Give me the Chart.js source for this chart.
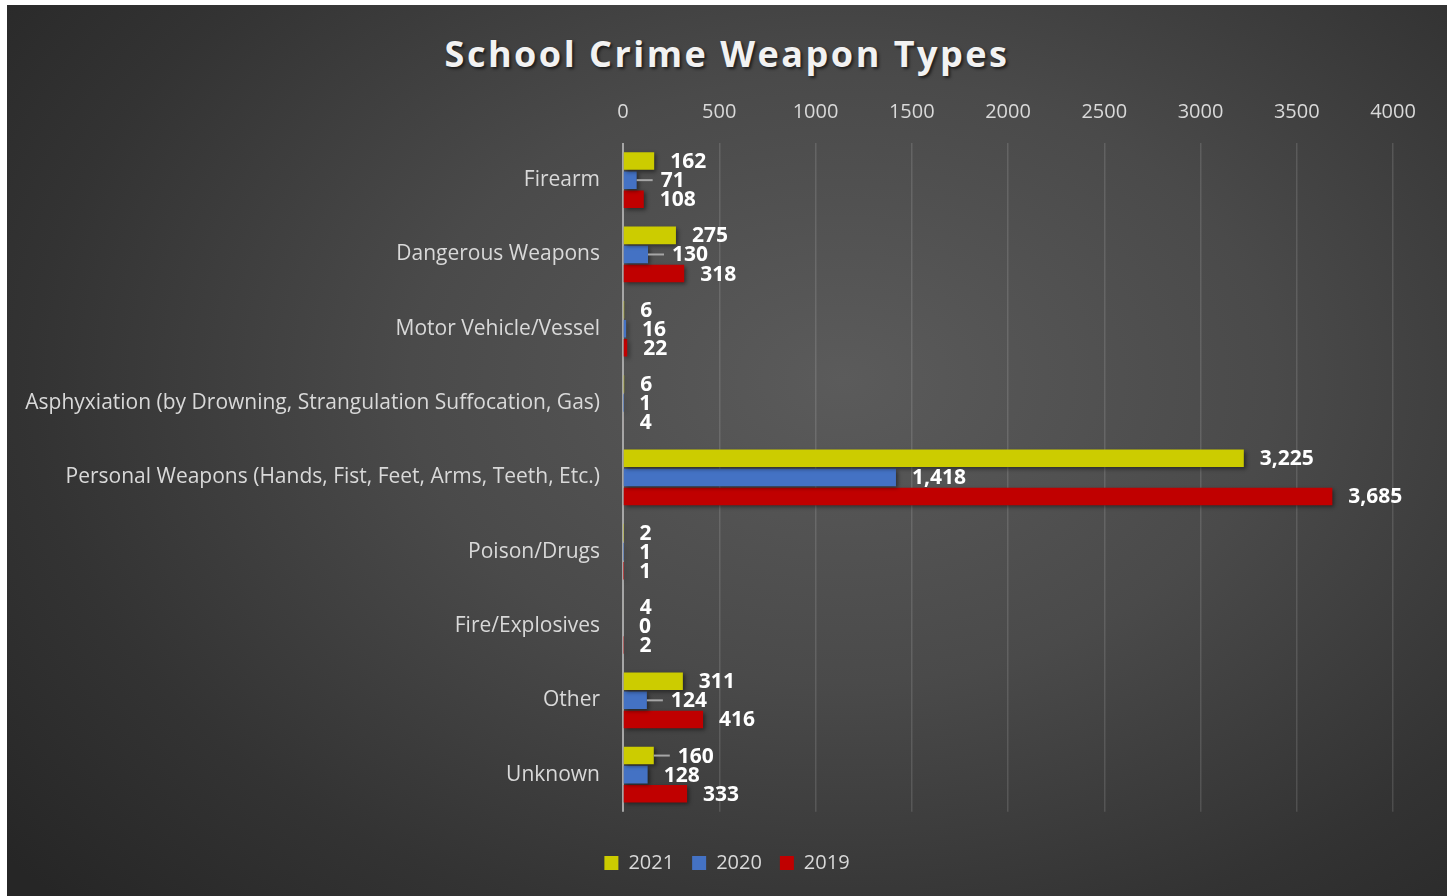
<!DOCTYPE html>
<html>
<head>
<meta charset="utf-8">
<script src="https://cdn.jsdelivr.net/npm/chart.js@4.4.1/dist/chart.umd.min.js"></script>
<style>
  html, body { margin: 0; padding: 0; background: #fff; }
  body { width: 1452px; height: 896px; overflow: hidden; position: relative; }
  #wrap {
    position: absolute; left: 7px; top: 5px; width: 1440px; height: 891px;
    background: radial-gradient(ellipse 75% 85% at 58% 42%, #5b5b5b 0%, #4a4a4a 40%, #333 75%, #262626 100%);
  }
  #title {
    position: absolute; left: 0; right: 0; top: 24px; margin: 0;
    text-align: center; color: #f2f2f2;
    font: bold 36px "Open Sans", sans-serif; letter-spacing: 2.5px;
    text-shadow: 2px 2px 3px rgba(0,0,0,0.6);
  }
  canvas { position: absolute; left: 0; top: 0; }
</style>
</head>
<body>
<div id="wrap">
  <h1 id="title">School Crime Weapon Types</h1>
  <canvas id="chart" width="1440" height="891"></canvas>
</div>
<script>
// Data
const categories = [
    "Firearm",
    "Dangerous Weapons",
    "Motor Vehicle/Vessel",
    "Asphyxiation (by Drowning, Strangulation Suffocation, Gas)",
    "Personal Weapons (Hands, Fist, Feet, Arms, Teeth, Etc.)",
    "Poison/Drugs",
    "Fire/Explosives",
    "Other",
    "Unknown"
];
const values2021 = [162, 275, 6, 6, 3225, 2, 4, 311, 160];
const values2020 = [71, 130, 16, 1, 1418, 1, 0, 124, 128];
const values2019 = [108, 318, 22, 4, 3685, 1, 2, 416, 333];
const axisMax = 4000;
const axisStep = 500;

const labelFont = '"Open Sans", sans-serif';

// labels that Excel pushed aside, with a leader line: [dataset, index]
const leaderLabels = [[1, 0], [1, 1], [1, 7], [0, 8]];

// value labels drawn next to each bar
const valueLabels = {
    id: "valueLabels",
    afterDatasetsDraw(chart) {
        const ctx = chart.ctx;
        ctx.save();
        ctx.font = "bold 21px " + labelFont;
        ctx.fillStyle = "#ffffff";
        ctx.textBaseline = "middle";
        chart.data.datasets.forEach((ds, di) => {
            chart.getDatasetMeta(di).data.forEach((bar, i) => {
                const lead = leaderLabels.some(p => p[0] === di && p[1] === i);
                let x = bar.x + 16;
                if (lead) {
                    ctx.strokeStyle = "#a6a6a6";
                    ctx.lineWidth = 2;
                    ctx.beginPath();
                    ctx.moveTo(bar.x, bar.y);
                    ctx.lineTo(bar.x + 16, bar.y);
                    ctx.stroke();
                    x = bar.x + 24;
                }
                ctx.fillText(ds.data[i].toLocaleString("en-US"), x, bar.y + 1);
            });
        });
        ctx.restore();
    }
};

// soft drop shadow under the bars
const barShadow = {
    id: "barShadow",
    beforeDatasetsDraw(chart) {
        const ctx = chart.ctx;
        ctx.save();
        ctx.shadowColor = "rgba(0,0,0,0.45)";
        ctx.shadowBlur = 4;
        ctx.shadowOffsetX = 2;
        ctx.shadowOffsetY = 2;
    },
    afterDatasetsDraw(chart) {
        chart.ctx.restore();
    }
};

// light axis line at zero
const zeroLine = {
    id: "zeroLine",
    beforeDatasetsDraw(chart) {
        const ctx = chart.ctx;
        const x = chart.scales.x.getPixelForValue(0);
        ctx.save();
        ctx.strokeStyle = "#a6a6a6";
        ctx.lineWidth = 2;
        ctx.beginPath();
        ctx.moveTo(x, chart.chartArea.top);
        ctx.lineTo(x, chart.chartArea.bottom);
        ctx.stroke();
        ctx.restore();
    }
};

new Chart(document.getElementById("chart").getContext("2d"), {
    type: "bar",
    data: {
        labels: categories,
        datasets: [
            { label: "2021", data: values2021, backgroundColor: "#cccc00" },
            { label: "2020", data: values2020, backgroundColor: "#4472c4" },
            { label: "2019", data: values2019, backgroundColor: "#c00000" }
        ]
    },
    options: {
        indexAxis: "y",
        responsive: false,
        animation: false,
        categoryPercentage: 0.77,
        barPercentage: 0.92,
        layout: { padding: { top: 88, right: 0, bottom: 13, left: 0 } },
        scales: {
            x: {
                position: "top",
                min: 0,
                max: axisMax,
                afterFit(scale) { scale.height = 50; },
                ticks: {
                    stepSize: axisStep,
                    color: "#d9d9d9",
                    font: { family: labelFont, size: 20 },
                    padding: 19,
                    callback: v => String(v)
                },
                grid: { color: "rgba(255,255,255,0.13)", lineWidth: 1.5, drawTicks: false },
                border: { display: false }
            },
            y: {
                afterFit(scale) { scale.width = 616; },
                ticks: {
                    color: "#d9d9d9",
                    font: { family: labelFont, size: 21 },
                    padding: 15
                },
                grid: { display: false },
                border: { display: false }
            },
            // empty margin on the right so the plot ends where the reference does
            yRight: {
                type: "category",
                position: "right",
                afterFit(scale) { scale.width = 54; },
                ticks: { display: false },
                grid: { display: false },
                border: { display: false }
            }
        },
        plugins: {
            legend: {
                position: "bottom",
                title: { display: true, text: "", font: { size: 1 }, padding: { top: 0, bottom: 22 } },
                labels: {
                    color: "#d9d9d9",
                    font: { family: labelFont, size: 20 },
                    boxWidth: 14,
                    boxHeight: 14,
                    padding: 18
                }
            },
            tooltip: { enabled: false }
        }
    },
    plugins: [zeroLine, barShadow, valueLabels]
});
</script>
</body>
</html>
